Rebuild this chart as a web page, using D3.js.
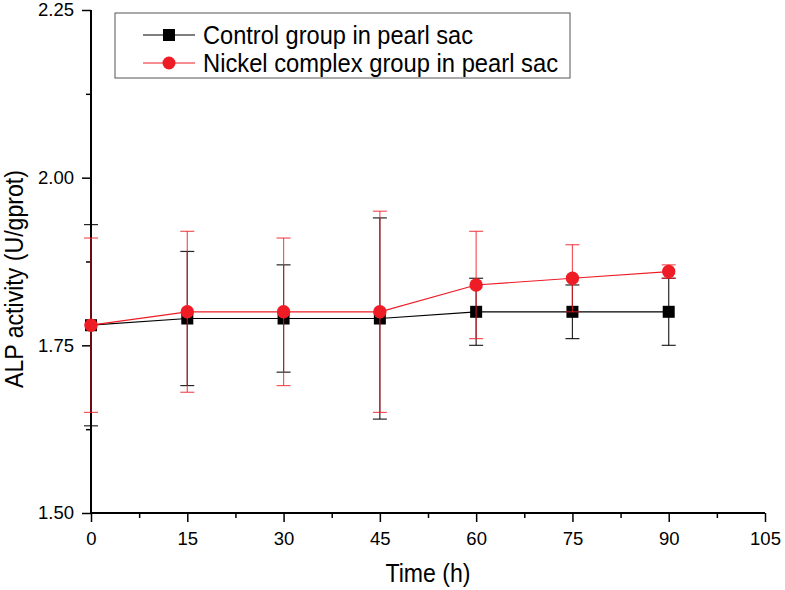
<!DOCTYPE html>
<html><head><meta charset="utf-8">
<script src="https://cdn.jsdelivr.net/npm/d3@7"></script>
<style>body{margin:0;background:#fff}svg{display:block;font-family:"Liberation Sans",Arial,sans-serif}</style>
</head><body><svg id="c" width="785" height="590"></svg>
<script>
const times = [0, 15, 30, 45, 60, 75, 90];
const controlMean = [1.78, 1.79, 1.79, 1.79, 1.80, 1.80, 1.80];
const controlErr  = [0.15, 0.10, 0.08, 0.15, 0.05, 0.04, 0.05];
const nickelMean  = [1.78, 1.80, 1.80, 1.80, 1.84, 1.85, 1.86];
const nickelErr   = [0.13, 0.12, 0.11, 0.15, 0.08, 0.05, 0.01];
const xTicks = [0, 15, 30, 45, 60, 75, 90, 105];
const yTicks = [1.50, 1.75, 2.00, 2.25];
const seriesNames = ["Control group in pearl sac", "Nickel complex group in pearl sac"];

const svg = d3.select("#c");
const x = d3.scaleLinear().domain([0, 105]).range([91, 765]);
const y = d3.scaleLinear().domain([1.5, 2.25]).range([513, 10]);
const black = "#000", red = "#ee1c25";

// axes
const xAxis = svg.append("g").attr("transform", "translate(0,513)")
  .call(d3.axisBottom(x).tickValues(xTicks).tickFormat(d3.format("d")).tickSize(9).tickPadding(10));
const xMinor = svg.append("g").attr("transform", "translate(0,513)")
  .call(d3.axisBottom(x).tickValues(d3.range(7.5, 105, 15)).tickFormat("").tickSize(5));
const yAxis = svg.append("g").attr("transform", "translate(91,0)")
  .call(d3.axisLeft(y).tickValues(yTicks).tickFormat(d3.format(".2f")).tickSize(9).tickPadding(8));
const yMinor = svg.append("g").attr("transform", "translate(91,0)")
  .call(d3.axisLeft(y).tickValues([1.625, 1.875, 2.125]).tickFormat("").tickSize(5));
[xAxis, xMinor, yAxis, yMinor].forEach(g => {
  g.selectAll("path").attr("stroke", "#000").attr("stroke-width", 2);
  g.selectAll("line").attr("stroke", "#000").attr("stroke-width", 1.5);
  g.selectAll("text").attr("font-size", 18.5).attr("fill", "#000").attr("font-family", "Liberation Sans, Arial, sans-serif");
});
xMinor.select("path").remove(); yMinor.select("path").remove();
xAxis.select("path").attr("d", "M91,0H765");
yAxis.select("path").attr("d", "M0,513V10");

svg.append("text").attr("x", 428).attr("y", 582).attr("text-anchor", "middle")
  .attr("font-size", 25).attr("textLength", 85).attr("lengthAdjust", "spacingAndGlyphs").text("Time (h)");
svg.append("text").attr("transform", "translate(23,279) rotate(-90)").attr("text-anchor", "middle")
  .attr("font-size", 26).attr("textLength", 218).attr("lengthAdjust", "spacingAndGlyphs").text("ALP activity (U/gprot)");

function drawSeries(means, errs, color, shape) {
  const pts = times.map((t, i) => ({t, m: means[i], e: errs[i]}));
  svg.append("path").datum(pts)
    .attr("d", d3.line().x(d => x(d.t)).y(d => y(d.m)))
    .attr("fill", "none").attr("stroke", color).attr("stroke-width", 1.2);
  const eb = svg.append("g").attr("stroke", color).attr("stroke-width", 1.2)
    .attr("stroke-opacity", color === red ? 0.75 : 0.85);
  pts.forEach(d => {
    const cx = x(d.t), y1 = y(d.m + d.e), y2 = y(d.m - d.e);
    eb.append("line").attr("x1", cx).attr("x2", cx).attr("y1", y1).attr("y2", y2);
    eb.append("line").attr("x1", cx - 7).attr("x2", cx + 7).attr("y1", y1).attr("y2", y1);
    eb.append("line").attr("x1", cx - 7).attr("x2", cx + 7).attr("y1", y2).attr("y2", y2);
  });
  if (shape === "square") {
    svg.append("g").selectAll("rect").data(pts).join("rect")
      .attr("x", d => x(d.t) - 6).attr("y", d => y(d.m) - 6)
      .attr("width", 12).attr("height", 12).attr("fill", color);
  } else {
    svg.append("g").selectAll("circle").data(pts).join("circle")
      .attr("cx", d => x(d.t)).attr("cy", d => y(d.m)).attr("r", 6.7).attr("fill", color);
  }
}
drawSeries(controlMean, controlErr, black, "square");
drawSeries(nickelMean, nickelErr, red, "circle");

// legend
const lg = svg.append("g");
lg.append("rect").attr("x", 115).attr("y", 13).attr("width", 455).attr("height", 65)
  .attr("fill", "#fff").attr("stroke", "#555").attr("stroke-width", 1);
const legendWidths = [270, 355];
[[black, "square", 35], [red, "circle", 63]].forEach(([c, s, yy], i) => {
  lg.append("line").attr("x1", 143).attr("x2", 195).attr("y1", yy).attr("y2", yy)
    .attr("stroke", c).attr("stroke-width", 1.2);
  if (s === "square") lg.append("rect").attr("x", 163).attr("y", yy - 6).attr("width", 12).attr("height", 12).attr("fill", c);
  else lg.append("circle").attr("cx", 169).attr("cy", yy).attr("r", 6.5).attr("fill", c);
  lg.append("text").attr("x", 203).attr("y", yy + 8.5).attr("font-size", 25).attr("fill", "#000")
    .attr("textLength", legendWidths[i]).attr("lengthAdjust", "spacingAndGlyphs").text(seriesNames[i]);
});
</script></body></html>
